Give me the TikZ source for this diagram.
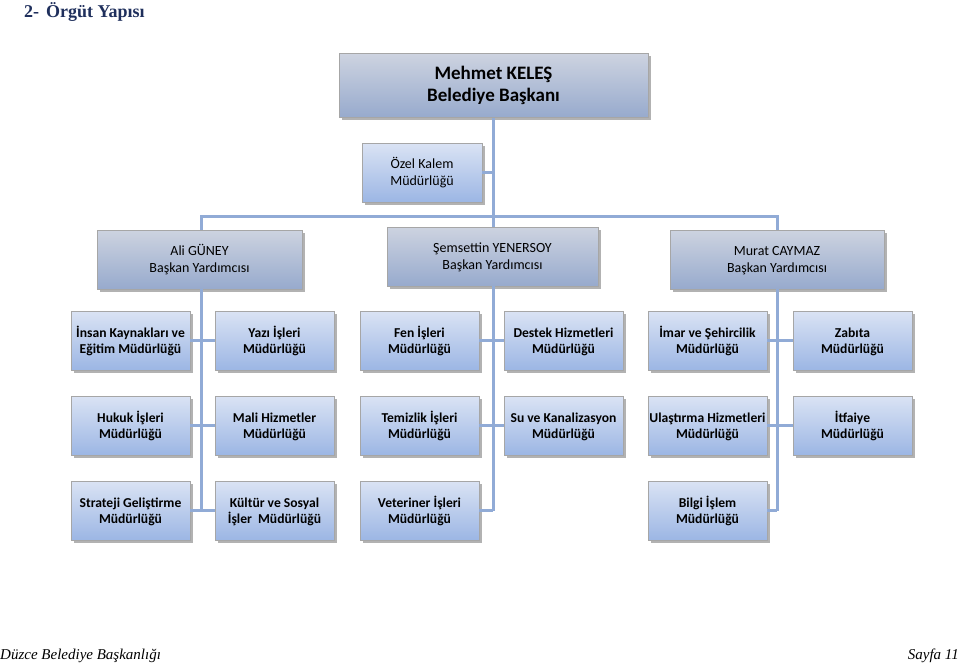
\documentclass[tikz,border=0pt]{standalone}
\usepackage{fontspec}
\setmainfont{Carlito}
\newfontfamily\serifface{Liberation Serif}
\usetikzlibrary{shadows}
\newcommand\fst{\vphantom{İ}}
\definecolor{conncol}{HTML}{91ABD6}
\definecolor{uTop}{HTML}{DAE3F4}
\definecolor{uBot}{HTML}{9CB6E4}
\definecolor{vpTop}{HTML}{CDD3E0}
\definecolor{vpBot}{HTML}{97AACD}
\definecolor{bordercol}{HTML}{A6A6A6}
\definecolor{titlecol}{HTML}{1F2F5C}
\tikzset{
  boxbase/.style={draw=bordercol, line width=0.8pt, inner sep=0pt, align=center,
    drop shadow={shadow xshift=2.5pt, shadow yshift=-2.5pt, fill=black, opacity=0.3}},
  vpbox/.style={boxbase, top color=vpTop, bottom color=vpBot, minimum height=59pt,
    font=\fontsize{14}{16.5}\selectfont},
  unitbox/.style={boxbase, top color=uTop, bottom color=uBot, minimum width=119pt,
    minimum height=59pt, font=\bfseries\fontsize{13.6}{16}\selectfont},
  conn/.style={draw=conncol, line width=3pt}
}
\begin{document}
\begin{tikzpicture}[x=1pt,y=-1pt]
\useasboundingbox (0,0) rectangle (960,665);
% title and footer
\node[anchor=west, inner sep=0pt, text=titlecol, font=\serifface\bfseries\fontsize{18}{22}\selectfont] (title) at (24,12) {2-\hspace{7pt}Örgüt Yapısı};
\node[anchor=west, inner sep=0pt, font=\serifface\itshape\fontsize{15}{18}\selectfont] (footl) at (0,656) {Düzce Belediye Başkanlığı};
\node[anchor=east, inner sep=0pt, font=\serifface\itshape\fontsize{15}{18}\selectfont] (footr) at (959,656) {Sayfa 11};
% junction coordinates
\coordinate (jA) at (201,216);
\coordinate (jS) at (493,216);
\coordinate (jR) at (777,216);
\coordinate (eA) at (201,510.5);
\coordinate (eS) at (493,510.5);
\coordinate (eR) at (777,510.5);
% boxes
\node[vpbox, minimum width=309pt, minimum height=64pt, font=\bfseries\fontsize{19}{22}\selectfont] (mayor) at (493.5,85.5) {Mehmet KELEŞ\\Belediye Başkanı};
\node[vpbox, minimum width=120pt, top color=uTop, bottom color=uBot] (ozel) at (422,172.5) {\fst Özel Kalem\\Müdürlüğü};
\node[vpbox, minimum width=205pt] (ali) at (199.5,259.5) {\fst Ali GÜNEY\\Başkan Yardımcısı};
\node[vpbox, minimum width=211pt] (sem) at (492.5,256.5) {\fst Şemsettin YENERSOY\\Başkan Yardımcısı};
\node[vpbox, minimum width=214pt] (murat) at (777,259.5) {\fst Murat CAYMAZ\\Başkan Yardımcısı};
% row 1
\node[unitbox] (u11) at (130.5,340.5) {\fst İnsan Kaynakları ve\\Eğitim Müdürlüğü};
\node[unitbox] (u12) at (274.5,340.5) {\fst Yazı İşleri\\Müdürlüğü};
\node[unitbox] (u13) at (419.5,340.5) {\fst Fen İşleri\\Müdürlüğü};
\node[unitbox] (u14) at (563.5,340.5) {\fst Destek Hizmetleri\\Müdürlüğü};
\node[unitbox] (u15) at (707.5,340.5) {\fst İmar ve Şehircilik\\Müdürlüğü};
\node[unitbox] (u16) at (852.5,340.5) {\fst Zabıta\\Müdürlüğü};
% row 2
\node[unitbox] (u21) at (130.5,425.5) {\fst Hukuk İşleri\\Müdürlüğü};
\node[unitbox] (u22) at (274.5,425.5) {\fst Mali Hizmetler\\Müdürlüğü};
\node[unitbox] (u23) at (419.5,425.5) {\fst Temizlik İşleri\\Müdürlüğü};
\node[unitbox] (u24) at (563.5,425.5) {\fst Su ve Kanalizasyon\\Müdürlüğü};
\node[unitbox] (u25) at (707.5,425.5) {\fst Ulaştırma Hizmetleri\\Müdürlüğü};
\node[unitbox] (u26) at (852.5,425.5) {\fst İtfaiye\\Müdürlüğü};
% row 3
\node[unitbox] (u31) at (130.5,510.5) {\fst Strateji Geliştirme\\Müdürlüğü};
\node[unitbox] (u32) at (274.5,510.5) {\fst Kültür ve Sosyal\\İşler\ \ Müdürlüğü};
\node[unitbox] (u33) at (419.5,510.5) {\fst Veteriner İşleri\\Müdürlüğü};
\node[unitbox] (u35) at (707.5,510.5) {\fst Bilgi İşlem\\Müdürlüğü};
% connectors
\draw[conn] (mayor.south -| jS) -- (jS);
\draw[conn] (ozel.east) -- (ozel.east -| jS);
\draw[conn] (ali.north -| jA) -- (jA) -- (jR) -- (murat.north -| jR);
\draw[conn] (jS) -- (sem.north -| jS);
\draw[conn] (ali.south -| eA) -- (eA);
\draw[conn] (sem.south -| eS) -- (eS);
\draw[conn] (murat.south -| eR) -- (eR);
\draw[conn] (u11.east) -- (u12.west);
\draw[conn] (u21.east) -- (u22.west);
\draw[conn] (u31.east) -- (u32.west);
\draw[conn] (u13.east) -- (u14.west);
\draw[conn] (u23.east) -- (u24.west);
\draw[conn] (u33.east) -- (eS);
\draw[conn] (u15.east) -- (u16.west);
\draw[conn] (u25.east) -- (u26.west);
\draw[conn] (u35.east) -- (eR);
\end{tikzpicture}
\end{document}
